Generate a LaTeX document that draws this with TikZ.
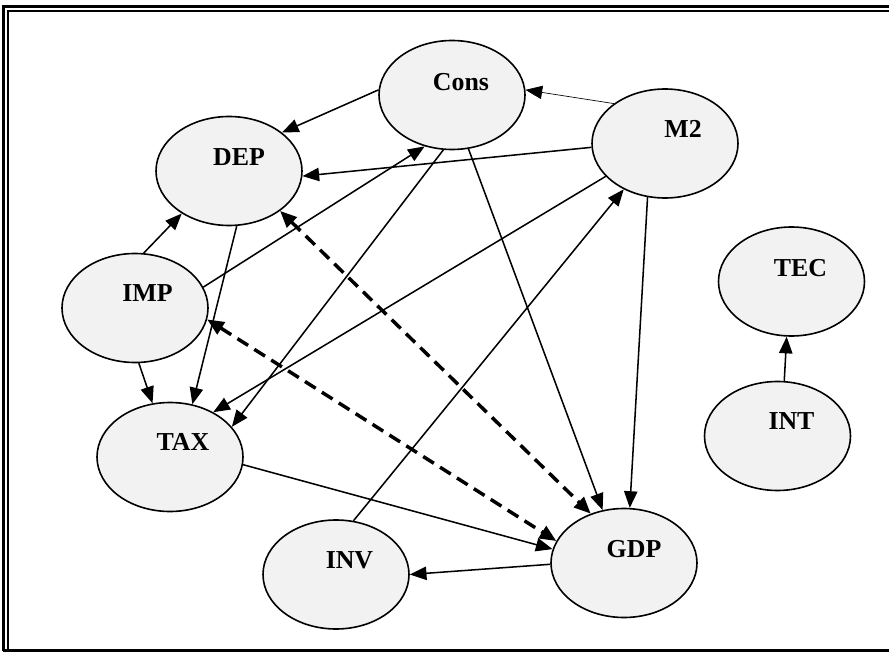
\documentclass[tikz,border=0pt]{standalone}
\usepackage{fontspec}
\setmainfont{Liberation Serif}
\usetikzlibrary{shapes.geometric,arrows.meta}
\definecolor{nodefill}{HTML}{F2F2F2}
\begin{document}
\begin{tikzpicture}[x=0.75pt,y=-0.75pt,
  ell/.style={ellipse,draw,fill=nodefill,line width=1.2pt,minimum width=109.5pt,minimum height=81.75pt,inner sep=0pt},
  lbl/.style={font=\fontsize{19.4}{22}\selectfont\bfseries,inner sep=0pt},
  edge/.style={line width=1.15pt,-{Triangle[length=12.5pt,width=10pt]}},
  thinedge/.style={line width=0.5pt,-{Triangle[length=12.5pt,width=10pt]}},
  dashedge/.style={line width=2.6pt,dash pattern=on 9.5pt off 5.5pt,{Triangle[length=12.5pt,width=10.5pt]}-{Triangle[length=12.5pt,width=10.5pt]}},
  frameouter/.style={line width=1.8pt},
  frameinner/.style={line width=1pt}]
\useasboundingbox (0,0) rectangle (889,652);
% frame
\draw[frameouter] (889,6.7) -- (3.3,6.7) -- (3.3,651);
\draw[frameinner] (889,11) -- (8,11) -- (8,649);
\draw[frameouter] (3.3,650.3) -- (889,650.3);
% nodes
\node[ell,label={[lbl,xshift=6.75pt,yshift=9.75pt]center:Cons}] (cons) at (452,95) {};
\node[ell,label={[lbl,xshift=13.5pt,yshift=10.9pt]center:M2}] (m2) at (665,143.5) {};
\node[ell,label={[lbl,xshift=7.5pt,yshift=10.1pt]center:DEP}] (dep) at (229,171) {};
\node[ell,label={[lbl,xshift=9.4pt,yshift=11.6pt]center:IMP}] (imp) at (135,308) {};
\node[ell,label={[lbl,xshift=9.75pt,yshift=11.25pt]center:TAX}] (tax) at (170,457) {};
\node[ell,label={[lbl,xshift=10.1pt,yshift=10.5pt]center:INV}] (inv) at (336,574.5) {};
\node[ell,label={[lbl,xshift=7.5pt,yshift=10.5pt]center:GDP}] (gdp) at (624,563) {};
\node[ell,label={[lbl,xshift=6.75pt,yshift=10.1pt]center:TEC}] (tec) at (791.5,281.5) {};
\node[ell,label={[lbl,xshift=10.5pt,yshift=10.9pt]center:INT}] (int) at (777.5,436) {};
% edges
\draw[edge] (cons.176) -- (dep.36.7);
\draw[thinedge] (m2.142) -- (cons.4.8);
\draw[edge] (m2.183.5) -- (dep.356);
\draw[edge] (imp.81.7) -- (dep.222);
\draw[edge] (imp.17) -- (cons.242);
\draw[edge] (dep.278) -- (tax.67);
\draw[edge] (cons.261.6) -- (tax.26);
\draw[edge] (cons.287) -- (gdp.112);
\draw[edge] (m2.209) -- (tax.46);
\draw[edge] (m2.252.7) -- (gdp.84);
\draw[edge] (inv.72) -- (m2.228);
\draw[edge] (imp.274) -- (tax.108);
\draw[edge] (tax.354.5) -- (gdp.169);
\draw[edge] (gdp.181) -- (inv.0.4);
\draw[edge] (int.83) -- (tec.265);
\draw[dashedge] (dep.322) -- (gdp.124);
\draw[dashedge] (imp.351) -- (gdp.162);
\end{tikzpicture}
\end{document}
